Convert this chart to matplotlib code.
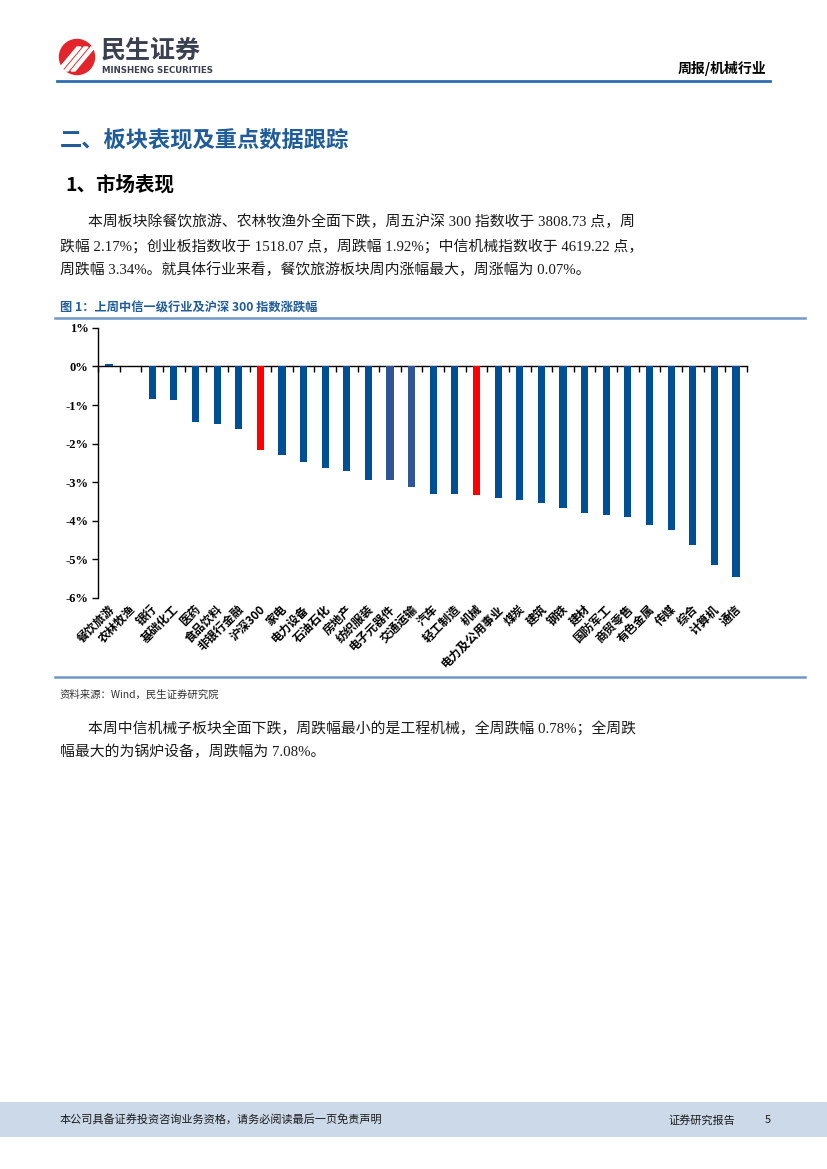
import matplotlib
matplotlib.use('Agg')
import matplotlib.pyplot as plt
import matplotlib.patches as mpatches
import matplotlib.transforms as mtransforms
import numpy as np

# ---------------- data ----------------
categories = ['餐饮旅游', '农林牧渔', '银行', '基础化工', '医药', '食品饮料', '非银行金融',
              '沪深300', '家电', '电力设备', '石油石化', '房地产', '纺织服装', '电子元器件',
              '交通运输', '汽车', '轻工制造', '机械', '电力及公用事业', '煤炭', '建筑', '钢铁',
              '建材', '国防军工', '商贸零售', '有色金属', '传媒', '综合', '计算机', '通信']
values = [0.07, 0.01, -0.85, -0.86, -1.44, -1.49, -1.61, -2.17, -2.29, -2.48, -2.64,
          -2.72, -2.94, -2.95, -3.12, -3.30, -3.31, -3.34, -3.42, -3.45, -3.54, -3.68,
          -3.81, -3.85, -3.90, -4.10, -4.23, -4.64, -5.15, -5.45]
yticks = [1, 0, -1, -2, -3, -4, -5, -6]
red_names = ['沪深300', '机械']
alt_names = ['电子元器件', '交通运输']

CJK = 'Noto Sans CJK SC'
MIX = ['Liberation Serif', 'Noto Sans CJK SC']

fig = plt.figure(figsize=(8.27, 11.69), dpi=100)

# background / page layer in pixel coordinates
bg = fig.add_axes([0, 0, 1, 1], zorder=0)
bg.set_xlim(0, 827)
bg.set_ylim(1169, 0)
bg.axis('off')

# ---- header logo ----
bg.add_patch(mpatches.Circle((77, 57), 17.5, color='#E3242B'))
for dx in (-7, 0, 7):
    bg.add_patch(mpatches.Polygon([(64 + dx, 71), (68 + dx, 71), (88 + dx, 47), (84 + dx, 47)],
                                  closed=True, color='white'))
bg.text(101, 51, '民生证券', fontsize=18, fontweight='bold', family=CJK, color='#3B4050',
        va='center', ha='left')
bg.text(102, 70.5, 'MINSHENG SECURITIES', fontsize=6.2, fontweight='bold', family='DejaVu Sans',
        color='#3B4050', va='center', ha='left')
bg.text(766, 68, '周报/机械行业', fontsize=10, fontweight='bold', family=CJK, color='black',
        va='center', ha='right')
bg.plot([57, 770], [81, 81], color='#2E6DB4', lw=2)

# ---- headings ----
bg.text(60, 140, '二、板块表现及重点数据跟踪', fontsize=16, fontweight='bold', family=CJK,
        color='#1F5C99', va='center', ha='left')
bg.text(65, 185, '1、市场表现', fontsize=14, fontweight='bold', family=CJK,
        color='black', va='center', ha='left')

para1 = ['本周板块除餐饮旅游、农林牧渔外全面下跌，周五沪深 300 指数收于 3808.73 点，周',
         '跌幅 2.17%；创业板指数收于 1518.07 点，周跌幅 1.92%；中信机械指数收于 4619.22 点，',
         '周跌幅 3.34%。就具体行业来看，餐饮旅游板块周内涨幅最大，周涨幅为 0.07%。']
for i, (line, x) in enumerate(zip(para1, [88, 60, 60])):
    bg.text(x, 222 + i * 24, line, fontsize=10.7, family=MIX, color='#1A1A1A',
            va='center', ha='left')

# ---- figure caption ----
bg.text(60, 308, '图 1：上周中信一级行业及沪深 300 指数涨跌幅', fontsize=8.8, fontweight='bold',
        family=CJK, color='#1F5C99', va='center', ha='left')
bg.plot([55, 805], [318, 318], color='#6F98C6', lw=1.8)
bg.plot([55, 805], [677, 677], color='#6F98C6', lw=1.8)
bg.text(60, 695, '资料来源：Wind，民生证券研究院', fontsize=7.5, family=CJK, color='#333333',
        va='center', ha='left')

para2 = ['本周中信机械子板块全面下跌，周跌幅最小的是工程机械，全周跌幅 0.78%；全周跌',
         '幅最大的为锅炉设备，周跌幅为 7.08%。']
for i, (line, x) in enumerate(zip(para2, [88, 60])):
    bg.text(x, 729 + i * 23, line, fontsize=10.7, family=MIX, color='#1A1A1A',
            va='center', ha='left')

# ---- footer ----
bg.add_patch(mpatches.Rectangle((0, 1102), 827, 35, color='#CBD9E8', lw=0))
bg.text(60, 1120, '本公司具备证券投资咨询业务资格，请务必阅读最后一页免责声明', fontsize=8.0,
        family=CJK, color='#1A1A1A', va='center', ha='left')
bg.text(668, 1120, '证券研究报告', fontsize=8.0, family=CJK, color='#1A1A1A', va='center', ha='left')
bg.text(765, 1120, '5', fontsize=8.0, family=CJK, color='#1A1A1A', va='center', ha='left')

# ---------------- chart ----------------
ax = fig.add_axes([0.1187, 0.4885, 0.7843, 0.2310], zorder=1)
ax.patch.set_alpha(0)
x = np.arange(len(categories))
colors = ['#FF0000' if c in red_names else ('#2F5597' if c in alt_names else '#004F95')
          for c in categories]
ax.bar(x, values, width=0.33, color=colors, zorder=3)

ax.set_xlim(-0.5, len(categories) - 0.5)
ax.set_ylim(-6, 1)
ax.set_yticks(yticks)
ax.set_yticklabels([f'{v}%' for v in yticks], fontfamily='Liberation Serif',
                   fontweight='bold', fontsize=9)
ax.tick_params(axis='y', direction='out', length=4, width=1, pad=3)

for s in ['top', 'right']:
    ax.spines[s].set_visible(False)
ax.spines['left'].set_linewidth(1)
ax.spines['bottom'].set_position(('data', 0))
ax.spines['bottom'].set_linewidth(1)
ax.set_xticks(x)
ax.set_xticklabels([])
ax.tick_params(axis='x', which='major', length=0)
ax.set_xticks(np.arange(len(categories) + 1) - 0.5, minor=True)
ax.tick_params(axis='x', which='minor', direction='out', length=4, width=1)

trans = mtransforms.blended_transform_factory(ax.transData, ax.transAxes)
for xi, name in zip(x, categories):
    ax.text(xi + 0.15, -0.035, name, transform=trans, rotation=45, rotation_mode='anchor',
            ha='right', va='center', fontsize=8.5, fontweight='bold', family=CJK, color='black')

fig.savefig('out.png', dpi=100)
